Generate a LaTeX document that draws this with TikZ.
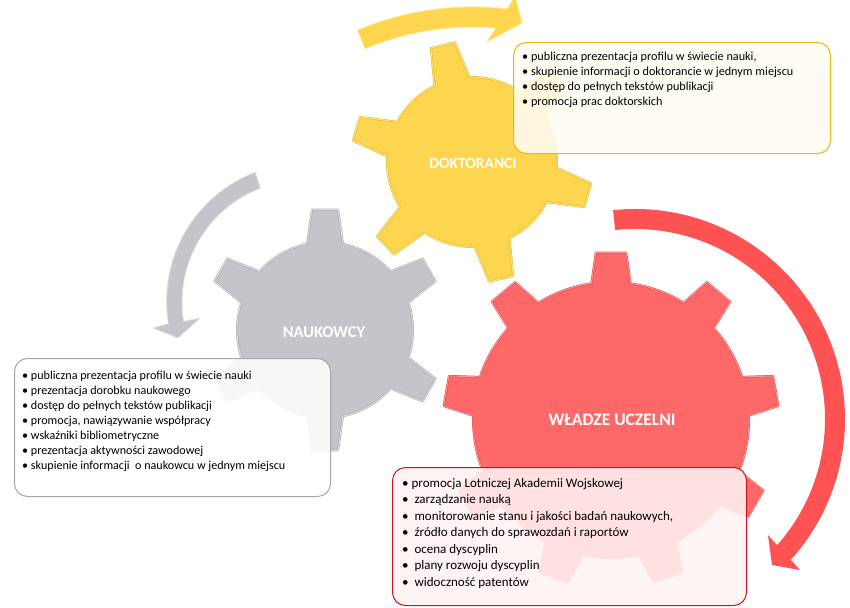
\documentclass[tikz,border=0pt]{standalone}
\usepackage{fontspec}
\setmainfont{Carlito}
\usetikzlibrary{calc}

\definecolor{dokfill}{RGB}{253,213,78}
\definecolor{dokedge}{RGB}{255,232,130}
\definecolor{dokdark}{RGB}{225,180,40}
\definecolor{dokline}{RGB}{232,184,20}
\definecolor{doklight}{RGB}{255,252,242}
\definecolor{naufill}{RGB}{196,196,202}
\definecolor{nauedge}{RGB}{222,222,228}
\definecolor{naudark}{RGB}{165,165,172}
\definecolor{nauline}{RGB}{165,165,170}
\definecolor{wlafill}{RGB}{255,104,104}
\definecolor{wlaedge}{RGB}{255,150,150}
\definecolor{wladark}{RGB}{225,70,70}
\definecolor{wlaarrow}{RGB}{255,82,82}
\definecolor{wlaline}{RGB}{204,20,30}
\definecolor{wlalight}{RGB}{255,242,242}

% gear: centre, teeth, first tooth angle, body radius, tip radius,
% half angle at base, half angle at tip, style
\newcommand{\gear}[8]{%
  \filldraw[#8] ($(#1)+({#3-360/#2+#6}:#4)$)
  \foreach \k in {1,...,#2} {
    arc[start angle={#3+360/#2*(\k-2)+#6}, end angle={#3+360/#2*(\k-1)-#6}, radius=#4]
    -- ($(#1)+({#3+360/#2*(\k-1)-#7}:#5)$)
    -- ($(#1)+({#3+360/#2*(\k-1)+#7}:#5)$)
    -- ($(#1)+({#3+360/#2*(\k-1)+#6}:#4)$)
  } -- cycle;}

\begin{document}
\begin{tikzpicture}[x=1pt,y=1pt,line join=round,
  gearlabel/.style={text=white,inner sep=0pt},
  listbox/.style={rounded corners=13pt,line width=1pt,anchor=north west,fill opacity=0.88},
  listtext/.style={align=left,anchor=north west,inner sep=0pt}]
\useasboundingbox (0,0) rectangle (850,-607);
\coordinate (dc) at (472,-162);
\coordinate (nc) at (325,-330);
\coordinate (wc) at (611,-420);
\coordinate (da) at (472,-300);
\coordinate (na) at (305,-302);
\coordinate (wa) at (635,-419);

% round arrows
\filldraw[fill=dokfill,draw=dokedge,line width=0.8pt] ($(da)+(113:293)$) arc[start angle=113,end angle=83.1,radius=293]
  -- (515,4) -- (522,-23) -- (487,-42) -- ($(da)+(85:273)$) arc[start angle=85,end angle=113,radius=273] -- cycle;
\filldraw[fill=naufill,draw=nauedge,line width=0.8pt] ($(na)+(111:139)$) arc[start angle=111,end angle=189.4,radius=138]
  -- (153,-328) -- (178,-338) -- (200,-318) -- ($(na)+(189.1:123)$) arc[start angle=189.1,end angle=111,radius=122] -- cycle;
\fill[wlaarrow] ($(wa)+(96:210)$) arc[start angle=96,end angle=-42.1,radius=210]
  -- (800,-570) -- (772,-565) -- (768,-535) -- ($(wa)+(-41.6:190)$) arc[start angle=-41.6,end angle=96,radius=190] -- cycle;

% gears
\gear{nc}{6}{90}{88}{121}{11.8}{6.2}{fill=naufill,draw=naudark,line width=2pt}
\gear{nc}{6}{90}{88}{121}{11.8}{6.2}{fill=none,draw=nauedge,line width=1pt}
\gear{dc}{6}{104}{85}{121}{12.2}{5.9}{fill=dokfill,draw=dokdark,line width=2pt}
\gear{dc}{6}{104}{85}{121}{12.2}{5.9}{fill=none,draw=dokedge,line width=1pt}
\gear{wc}{9}{90}{138}{168}{8.2}{5.2}{fill=wlafill,draw=wladark,line width=2pt}
\gear{wc}{9}{90}{138}{168}{8.2}{5.2}{fill=none,draw=wlaedge,line width=1pt}

\node[gearlabel,font=\bfseries\fontsize{15.5}{18}\selectfont] (dok) at (473,-163) {DOKTORANCI};
\node[gearlabel,font=\bfseries\fontsize{16.4}{19}\selectfont] (nau) at (324,-332) {NAUKOWCY};
\node[gearlabel,font=\bfseries\fontsize{17.5}{20}\selectfont] (wla) at (612,-420) {WŁADZE UCZELNI};

% lists
\node[listbox,draw=dokline,fill=doklight,minimum width=317pt,minimum height=111pt] (dokbox) at (513,-42) {};
\node[listbox,draw=nauline,fill=white,minimum width=316pt,minimum height=138pt] (naubox) at (14,-358) {};
\node[listbox,draw=wlaline,fill=wlalight,minimum width=354pt,minimum height=138pt] (wlabox) at (392,-467) {};

\node[listtext,font=\fontsize{12.2}{15}\selectfont] (doktext) at (522,-52) {%
  • publiczna prezentacja profilu w świecie nauki,\\
  • skupienie informacji o doktorancie w jednym miejscu\\
  • dostęp do pełnych tekstów publikacji\\
  • promocja prac doktorskich};
\node[listtext,font=\fontsize{12.1}{15}\selectfont] (nautext) at (22,-371) {%
  • publiczna prezentacja profilu w świecie nauki\\
  • prezentacja dorobku naukowego\\
  • dostęp do pełnych tekstów publikacji\\
  • promocja, nawiązywanie współpracy\\
  • wskaźniki bibliometryczne\\
  • prezentacja aktywności zawodowej\\
  • skupienie informacji \ o naukowcu w jednym miejscu};
\node[listtext,font=\fontsize{13}{16.5}\selectfont] (wlatext) at (402,-478) {%
  • promocja Lotniczej Akademii Wojskowej\\
  • \ zarządzanie nauką\\
  • \ monitorowanie stanu i jakości badań naukowych,\\
  • \ źródło danych do sprawozdań i raportów\\
  • \ ocena dyscyplin\\
  • \ plany rozwoju dyscyplin\\
  • \ widoczność patentów};
\end{tikzpicture}
\end{document}
